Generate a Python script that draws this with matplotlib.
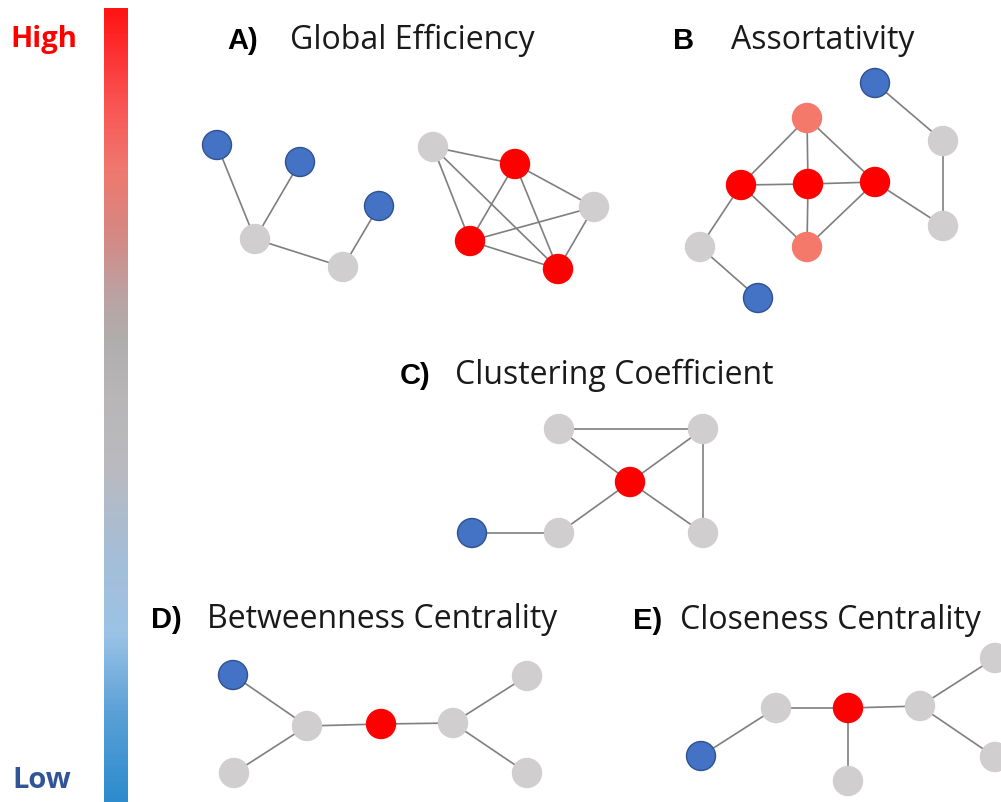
import matplotlib.pyplot as plt
from matplotlib.colors import LinearSegmentedColormap
import numpy as np

# node positions (pixels), node kind and edges for each little network
a_x = [217, 300, 379, 255, 343, 433, 515, 594, 470, 558]
a_y = [146, 163, 207, 240, 268, 148, 165, 208, 242, 270]
a_kind = ['low', 'low', 'low', 'mid', 'mid', 'mid', 'high', 'mid', 'high', 'high']
a_edges = [(0, 3), (1, 3), (3, 4), (4, 2),
           (5, 6), (5, 8), (5, 9), (6, 8), (6, 9), (6, 7), (8, 7), (8, 9), (7, 9)]

b_x = [875, 943, 943, 807, 741, 808, 875, 807, 700, 758]
b_y = [84, 142, 227, 119, 186, 185, 183, 248, 248, 299]
b_kind = ['low', 'mid', 'mid', 'semi', 'high', 'high', 'high', 'semi', 'mid', 'low']
b_edges = [(0, 1), (1, 2), (2, 6), (3, 4), (3, 5), (3, 6), (4, 5), (5, 6),
           (4, 7), (5, 7), (6, 7), (4, 8), (8, 9)]

c_x = [559, 703, 630, 472, 559, 703]
c_y = [430, 430, 483, 534, 534, 534]
c_kind = ['mid', 'mid', 'high', 'low', 'mid', 'mid']
c_edges = [(0, 1), (0, 2), (1, 2), (1, 5), (2, 5), (2, 4), (4, 3)]

d_x = [233, 307, 381, 453, 527, 527, 234]
d_y = [676, 727, 725, 724, 677, 774, 774]
d_kind = ['low', 'mid', 'high', 'mid', 'mid', 'mid', 'mid']
d_edges = [(0, 1), (1, 2), (1, 6), (2, 3), (3, 4), (3, 5)]

e_x = [701, 776, 848, 848, 920, 995, 995]
e_y = [757, 709, 709, 782, 707, 659, 758]
e_kind = ['low', 'mid', 'high', 'mid', 'mid', 'mid', 'mid']
e_edges = [(0, 1), (1, 2), (2, 3), (2, 4), (4, 5), (4, 6)]

panel_letters = ['A)', 'B', 'C)', 'D)', 'E)']
panel_titles = ['Global Efficiency', 'Assortativity', 'Clustering Coefficient',
                'Betweenness Centrality', 'Closeness Centrality']
letter_x = [227, 673, 400, 151, 633]
title_x = [290, 731, 455, 207, 680]
title_base = [49, 49, 384, 628, 629]

fill = {'low': '#4472C4', 'mid': '#D0CECE', 'high': '#FF0000', 'semi': '#F4796B'}
edge = {'low': '#2F528F', 'mid': '#D0CECE', 'high': '#FF0000', 'semi': '#F4796B'}

# colour bar stops, top (high) to bottom (low)
bar_pos = [0.0, 0.11, 0.20, 0.28, 0.36, 0.42, 0.49, 0.58, 0.69, 0.79, 0.89, 1.0]
bar_rgb = [(255, 20, 20), (250, 80, 80), (240, 120, 110), (215, 135, 130),
           (188, 162, 162), (176, 174, 174), (184, 182, 182), (186, 186, 192),
           (165, 190, 215), (155, 195, 230), (90, 160, 215), (45, 140, 205)]

fig = plt.figure(figsize=(10.01, 8.03), dpi=100)
ax = fig.add_axes([0, 0, 1, 1])
ax.set_xlim(0, 1001)
ax.set_ylim(803, 0)
ax.axis('off')

cmap = LinearSegmentedColormap.from_list(
    'hl', [(p, tuple(c / 255 for c in rgb)) for p, rgb in zip(bar_pos, bar_rgb)])
grad = np.linspace(0, 1, 400).reshape(-1, 1)
ax.imshow(grad, cmap=cmap, aspect='auto', extent=[104, 128, 803, 9], zorder=1)

ax.text(44, 40, 'High', color='#FF0000', fontsize=21, fontweight='bold',
        family='Open Sans', ha='center', va='center')
ax.text(42, 781, 'Low', color='#2F5597', fontsize=21, fontweight='bold',
        family='Open Sans', ha='center', va='center')

node_s = (29 * 72 / 100) ** 2


def draw_net(xs, ys, kinds, edges):
    for i, j in edges:
        ax.plot([xs[i], xs[j]], [ys[i], ys[j]], color='#7F7F7F', lw=1.2, zorder=2)
    ax.scatter(xs, ys, s=node_s, c=[fill[k] for k in kinds],
               edgecolors=[edge[k] for k in kinds], linewidths=1.0, zorder=3)


draw_net(a_x, a_y, a_kind, a_edges)
draw_net(b_x, b_y, b_kind, b_edges)
draw_net(c_x, c_y, c_kind, c_edges)
draw_net(d_x, d_y, d_kind, d_edges)
draw_net(e_x, e_y, e_kind, e_edges)

for lt, tt, lx, tx, ty in zip(panel_letters, panel_titles, letter_x, title_x, title_base):
    ax.text(lx, ty, lt, fontsize=21, fontweight='bold', family='Liberation Sans',
            ha='left', va='baseline', color='black')
    ax.text(tx, ty, tt, fontsize=23, family='Open Sans',
            ha='left', va='baseline', color='#1a1a1a')

fig.savefig('out.png', dpi=100)
